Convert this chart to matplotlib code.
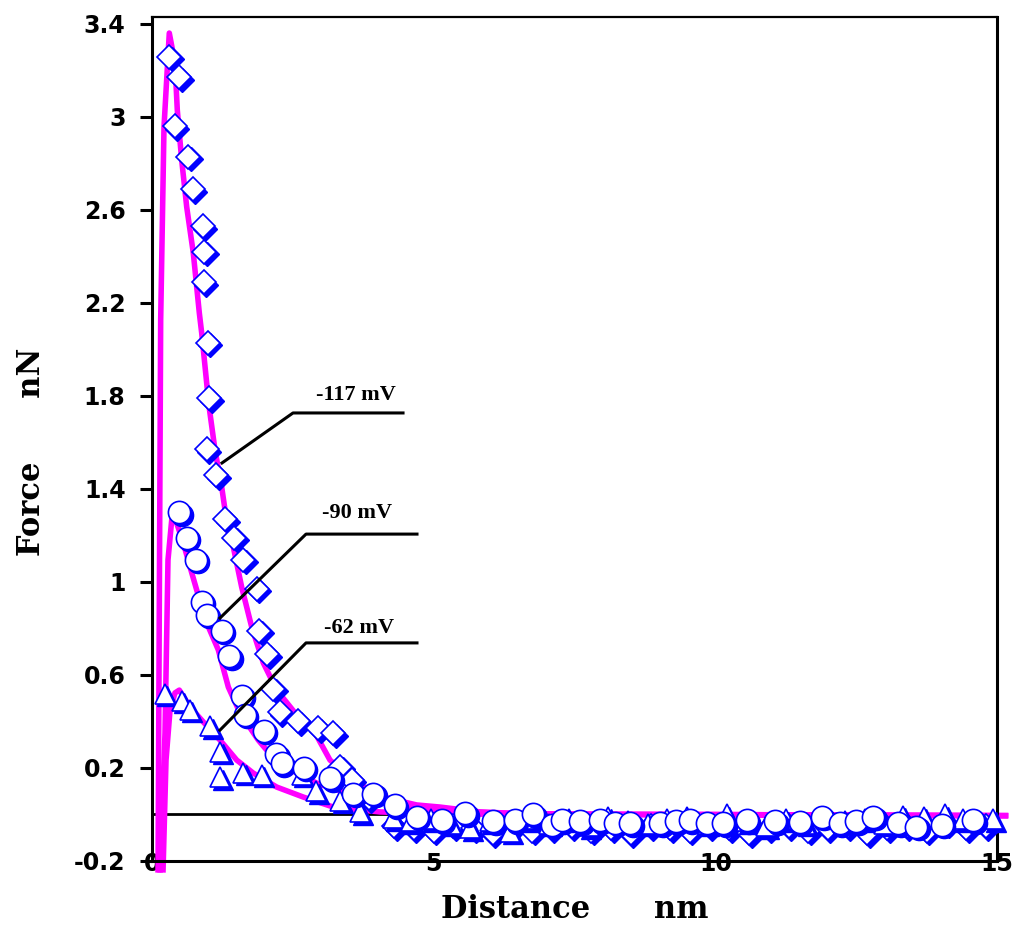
import matplotlib
matplotlib.use('Agg')
import matplotlib.pyplot as plt
from matplotlib.transforms import offset_copy

# fitted curves (distance nm, force nN)
fit_117_x = [0.107, 0.154, 0.213, 0.307, 0.408, 0.449, 0.527, 0.616, 0.733, 0.840, 0.882, 1.01,
             1.118, 1.237, 1.355, 1.443, 1.592, 1.77, 1.976, 2.214, 2.539, 2.894, 3.16, 3.634,
             4.167, 4.699, 5.113, 5.823, 6.71, 8.0, 10.0, 12.0, 14.0, 15.2]
fit_117_y = [-0.25, 2.127, 2.957, 3.361, 3.232, 3.03, 2.815, 2.613, 2.415, 2.157, 2.071, 1.76,
             1.568, 1.409, 1.211, 1.151, 0.978, 0.806, 0.652, 0.535, 0.437, 0.351, 0.234, 0.135,
             0.071, 0.041, 0.032, 0.011, 0.002, 0.0, 0.0, -0.002, -0.004, -0.005]

fit_90_x = [0.142, 0.231, 0.284, 0.35, 0.378, 0.556, 0.675, 0.793, 0.971, 1.177, 1.355, 1.562,
            1.887, 2.153, 2.569, 2.924, 3.456, 4.048, 4.634, 5.29, 6.18, 7.24, 9.73, 12.5, 15.2]
fit_90_y = [-0.25, 0.351, 1.095, 1.267, 1.297, 1.168, 1.065, 0.966, 0.824, 0.708, 0.548, 0.437,
            0.32, 0.243, 0.178, 0.135, 0.092, 0.054, 0.032, 0.015, 0.006, 0.002, 0.0, -0.003, -0.005]

fit_62_x = [0.195, 0.249, 0.32, 0.408, 0.485, 0.675, 0.911, 1.207, 1.504, 1.798, 2.214, 2.686,
            3.219, 4.048, 5.29, 7.95, 11.0, 15.2]
fit_62_y = [-0.25, 0.234, 0.449, 0.523, 0.535, 0.462, 0.398, 0.32, 0.234, 0.178, 0.118, 0.075,
            0.032, 0.011, 0.002, 0.0, -0.003, -0.005]

# measured points, -117 mV (diamonds)
mv117_x = [0.31, 0.48, 0.40, 0.64, 0.72, 0.90, 0.93, 0.92, 0.99, 1.02, 0.97, 1.14, 1.30, 1.46,
           1.62, 1.86, 1.90, 2.05, 2.15, 2.27, 2.60, 2.95, 3.22, 3.34, 3.55, 3.85,
           4.3, 4.65, 5.0, 5.35, 5.7, 6.05, 6.4, 6.75, 7.1, 7.45, 7.8, 8.15, 8.5, 8.85, 9.2,
           9.55, 9.9, 10.25, 10.6, 10.95, 11.3, 11.65, 12.0, 12.35, 12.7, 13.05, 13.4, 13.75,
           14.1, 14.45, 14.8]
mv117_y = [3.26, 3.17, 2.96, 2.83, 2.69, 2.53, 2.42, 2.29, 2.03, 1.79, 1.57, 1.46, 1.27, 1.19,
           1.095, 0.97, 0.79, 0.69, 0.54, 0.44, 0.40, 0.37, 0.35, 0.205, 0.15, 0.07,
           -0.05, -0.06, -0.07, -0.05, -0.06, -0.08, -0.05, -0.07, -0.06, -0.05, -0.07, -0.06,
           -0.08, -0.05, -0.06, -0.07, -0.05, -0.06, -0.08, -0.06, -0.05, -0.07, -0.06, -0.05,
           -0.08, -0.06, -0.05, -0.07, -0.04, -0.06, -0.05]

# measured points, -90 mV (circles)
mv90_x = [0.48, 0.62, 0.78, 0.88, 0.97, 1.24, 1.37, 1.59, 1.65, 1.98, 2.21, 2.30, 2.69, 3.16,
          3.57, 3.93, 4.31, 4.70, 5.14, 5.56, 6.06, 6.44, 6.77, 7.10, 7.27, 7.60, 7.95, 8.22,
          8.49, 9.02, 9.30, 9.55, 9.85, 10.14, 10.56, 11.06, 11.5, 11.89, 12.21, 12.5, 12.8,
          13.25, 13.57, 14.02, 14.58]
mv90_y = [1.30, 1.19, 1.095, 0.915, 0.86, 0.79, 0.68, 0.51, 0.43, 0.36, 0.26, 0.22, 0.20, 0.156,
          0.09, 0.09, 0.04, -0.01, -0.024, 0.005, -0.03, -0.024, 0.0, -0.045, -0.024, -0.03,
          -0.024, -0.035, -0.038, -0.038, -0.03, -0.024, -0.035, -0.038, -0.024, -0.03, -0.031,
          -0.01, -0.038, -0.03, -0.01, -0.038, -0.052, -0.045, -0.024]

# measured points, -62 mV (triangles)
mv62_x = [0.23, 0.53, 0.67, 1.03, 1.21, 1.21, 1.62, 1.95, 2.66, 2.92, 3.34,
          3.7, 4.28, 4.6, 4.95, 5.3, 5.65, 6.0, 6.36, 6.7, 7.05, 7.4, 7.75, 8.1, 8.45, 8.8,
          9.15, 9.5, 9.85, 10.2, 10.55, 10.9, 11.25, 11.6, 11.95, 12.3, 12.65, 13.0, 13.33,
          13.7, 14.08, 14.4, 14.93]
mv62_y = [0.52, 0.49, 0.45, 0.38, 0.27, 0.16, 0.18, 0.17, 0.17, 0.10, 0.06,
          0.01, -0.016, -0.03, -0.02, -0.04, -0.06, -0.03, -0.074, -0.02, -0.04, -0.02, -0.05,
          -0.01, -0.03, -0.04, -0.02, -0.01, -0.04, 0.0, -0.03, -0.05, -0.02, -0.04, -0.01,
          -0.03, -0.02, -0.04, -0.005, -0.01, 0.0, -0.02, -0.02]

y_ticks = [-0.2, 0.2, 0.6, 1, 1.4, 1.8, 2.2, 2.6, 3, 3.4]
y_tick_labels = ['-0.2', '0.2', '0.6', '1', '1.4', '1.8', '2.2', '2.6', '3', '3.4']
x_ticks = [0, 5, 10, 15]
x_tick_labels = ['0', '5', '10', '15']

labels = ['-117 mV', '-90 mV', '-62 mV']

BLUE = '#0000ff'
MAGENTA = '#ff00ff'


def draw_points(fig, ax, x_vals, y_vals, marker, size):
    """
    Function: draw_points\n
    Parameters: x_vals, y_vals -> data, marker -> marker shape, size -> marker size\n
    Functionality: plots white markers with a solid blue drop shadow\n
    """
    shadow = offset_copy(ax.transData, fig=fig, x=2.5, y=-2.5, units='dots')
    ax.plot(x_vals, y_vals, ls='none', marker=marker, ms=size, mfc=BLUE, mec=BLUE,
            mew=1.0, transform=shadow, zorder=3, clip_on=False)
    ax.plot(x_vals, y_vals, ls='none', marker=marker, ms=size, mfc='white', mec=BLUE,
            mew=1.2, zorder=3, clip_on=False)


fig = plt.figure(figsize=(10.15, 9.42), dpi=100)
ax = fig.add_axes([152 / 1015, 1 - 861 / 942, 845 / 1015, 844 / 942])
ax.set_xlim(0, 15)
ax.set_ylim(-0.2, 3.43)

# zero line
ax.plot([0, 15], [0, 0], color='black', lw=2.0, zorder=1.5)

for fx, fy in [(fit_117_x, fit_117_y), (fit_90_x, fit_90_y), (fit_62_x, fit_62_y)]:
    ax.plot(fx, fy, color=MAGENTA, lw=4, zorder=2, clip_on=False, solid_capstyle='butt')

draw_points(fig, ax, mv117_x, mv117_y, 'D', 12)
draw_points(fig, ax, mv62_x, mv62_y, '^', 15)
draw_points(fig, ax, mv90_x, mv90_y, 'o', 16)

# leader lines and labels
leaders = [
    ([1.243, 2.503, 4.456], [1.512, 1.727, 1.727], (3.613, 1.783)),
    ([1.207, 2.734, 4.704], [0.845, 1.206, 1.206], (3.648, 1.275)),
    ([1.207, 2.734, 4.704], [0.363, 0.738, 0.738], (3.684, 0.781)),
]
for lab, (lx, ly, pos) in zip(labels, leaders):
    ax.plot(lx, ly, color='black', lw=2.2, zorder=4)
    ax.text(pos[0], pos[1], lab, ha='center', va='baseline', fontsize=16,
            fontweight='bold', family='Liberation Serif', zorder=5)

for side in ['left', 'bottom', 'right']:
    ax.spines[side].set_linewidth(2.2)
ax.spines['top'].set_linewidth(1.6)

ax.set_yticks(y_ticks)
ax.set_yticklabels(y_tick_labels)
ax.set_xticks(x_ticks)
ax.set_xticklabels(x_tick_labels)
ax.tick_params(axis='y', direction='out', length=9, width=2.2, pad=10)
ax.tick_params(axis='x', length=0, pad=-6.5)
for t in ax.get_xticklabels() + ax.get_yticklabels():
    t.set_fontsize(17)
    t.set_fontweight('bold')
    t.set_family('DejaVu Sans')

fig.text(575 / 1015, 1 - 918 / 942, 'Distance      nm', ha='center', va='baseline',
         fontsize=22, fontweight='bold', family='DejaVu Serif')
fig.text(32 / 1015, 1 - 452 / 942, 'Force      nN', ha='center', va='center', rotation=90,
         fontsize=22, fontweight='bold', family='DejaVu Serif')

fig.savefig('out.png', dpi=100)
